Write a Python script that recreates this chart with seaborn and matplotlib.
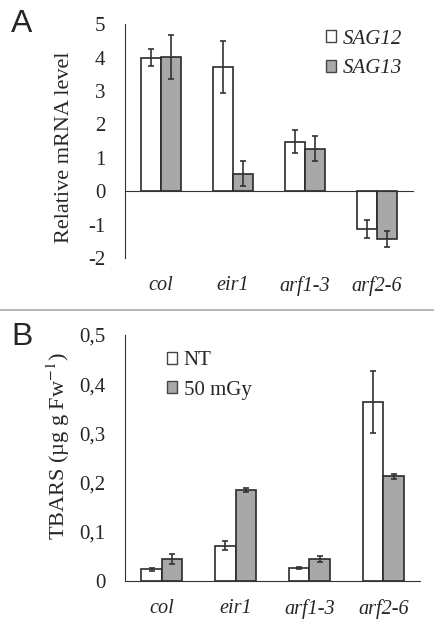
#import libraries
import numpy as np
import pandas as pd
import matplotlib
matplotlib.use('Agg')
import matplotlib.pyplot as plt
import seaborn as sns

sns.set_style('white')
plt.rcParams['font.family'] = ['Liberation Serif', 'DejaVu Serif']
plt.rcParams['mathtext.fontset'] = 'stix'

#data
genotypes = ['col', 'eir1', 'arf1-3', 'arf2-6']

#panel A: relative mRNA level
genes = ['SAG12', 'SAG13']
sag12 = [4.0, 3.72, 1.48, -1.13]
sag12_err = [0.25, 0.77, 0.35, 0.27]
sag13 = [4.02, 0.52, 1.27, -1.42]
sag13_err = [0.65, 0.37, 0.37, 0.24]
a_ticks = [-2, -1, 0, 1, 2, 3, 4, 5]

#panel B: TBARS
treatments = ['NT', '50 mGy']
nt = [0.024, 0.072, 0.027, 0.364]
nt_err = [0.003, 0.009, 0.002, 0.063]
gy50 = [0.045, 0.185, 0.044, 0.213]
gy50_err = [0.010, 0.005, 0.006, 0.005]
b_ticks = [0, 0.1, 0.2, 0.3, 0.4, 0.5]
b_ticklabels = ['0', '0,1', '0,2', '0,3', '0,4', '0,5']

df_a = pd.DataFrame({'genotype': genotypes * 2,
                     'gene': np.repeat(genes, len(genotypes)),
                     'value': sag12 + sag13,
                     'err': sag12_err + sag13_err})
df_b = pd.DataFrame({'genotype': genotypes * 2,
                     'treatment': np.repeat(treatments, len(genotypes)),
                     'value': nt + gy50,
                     'err': nt_err + gy50_err})

bar_colors = ['white', '#a8a8a8']
edge = '#2b2b2b'

fig = plt.figure(figsize=(4.35, 6.34), dpi=100)
ax_a = fig.add_axes([0.287, 0.593, 0.662, 0.369])
ax_b = fig.add_axes([0.287, 0.0836, 0.679, 0.388])


def draw_panel(ax, df, hue, yticks, yticklabels, ylim, ylabel, italic_legend, legend_loc):
    sns.barplot(data=df, x='genotype', y='value', hue=hue, order=genotypes,
                palette=bar_colors, edgecolor=edge, linewidth=1.2,
                width=0.556, errorbar=None, ax=ax)
    #error bars from the bars seaborn placed
    for container, level in zip(ax.containers, df[hue].unique()):
        sub = df[df[hue] == level]
        xs = [b.get_x() + b.get_width() / 2 for b in container]
        ax.errorbar(xs, sub['value'].values, yerr=sub['err'].values, fmt='none',
                    ecolor='#333333', elinewidth=1.2, capsize=2.5, capthick=1.2)
    ax.set_xlim(-0.5, 3.5)
    ax.set_ylim(*ylim)
    ax.set_yticks(yticks)
    ax.set_yticklabels(yticklabels, fontsize=15)
    ax.set_xlabel('')
    ax.set_ylabel(ylabel, fontsize=16)
    sns.despine(ax=ax)
    ax.spines['left'].set_color('#333333')
    ax.spines['bottom'].set_color('#333333')
    ax.spines['bottom'].set_position(('data', 0))
    ax.tick_params(axis='y', direction='out', length=3.6, width=1, color='#333333', pad=10.5)
    #boundary ticks on the zero line
    ax.set_xticks([-0.5, 0.5, 1.5, 2.5, 3.5], minor=True)
    ax.set_xticks([])
    ax.tick_params(axis='x', which='minor', direction='inout', length=9, width=1, color='#333333')
    #category labels at the bottom of the axes
    sec = ax.secondary_xaxis(0.0)
    sec.set_xticks(range(len(genotypes)))
    sec.set_xticklabels(genotypes, fontsize=14.6, style='italic')
    sec.tick_params(length=0, pad=13)
    sec.spines['bottom'].set_visible(False)
    handles, labels = ax.get_legend_handles_labels()
    leg = ax.legend(handles, labels, loc=legend_loc, frameon=False, fontsize=15,
                    handlelength=0.5, handleheight=0.5, handletextpad=0.3,
                    labelspacing=0.5, borderaxespad=0.2)
    for h in leg.legend_handles:
        h.set_edgecolor('#444444')
        h.set_linewidth(1.0)
    if italic_legend:
        for t in leg.get_texts():
            t.set_style('italic')
    return leg


draw_panel(ax_a, df_a, 'gene', a_ticks, [str(t) for t in a_ticks], (-2, 5),
           'Relative mRNA level', True, 'upper right')
ax_a.legend_.set_bbox_to_anchor((1.005, 1.03))
ax_a.yaxis.set_label_coords(-0.175, 0.475)

draw_panel(ax_b, df_b, 'treatment', b_ticks, b_ticklabels, (0, 0.5),
           'TBARS (µg g Fw$^{-1}$)', False, 'upper left')
ax_b.legend_.set_bbox_to_anchor((0.1, 0.985))
ax_b.yaxis.set_label_coords(-0.18, 0.55)

#panel letters and separator
fig.text(0.025, 0.962, 'A', fontsize=23, family='Liberation Sans', va='center')
fig.text(0.025, 0.468, 'B', fontsize=23, family='Liberation Sans', va='center')
fig.add_artist(plt.Line2D([0, 1], [0.511, 0.511], color='#aaaaaa', lw=1.2))

fig.savefig('out.png', dpi=100)
